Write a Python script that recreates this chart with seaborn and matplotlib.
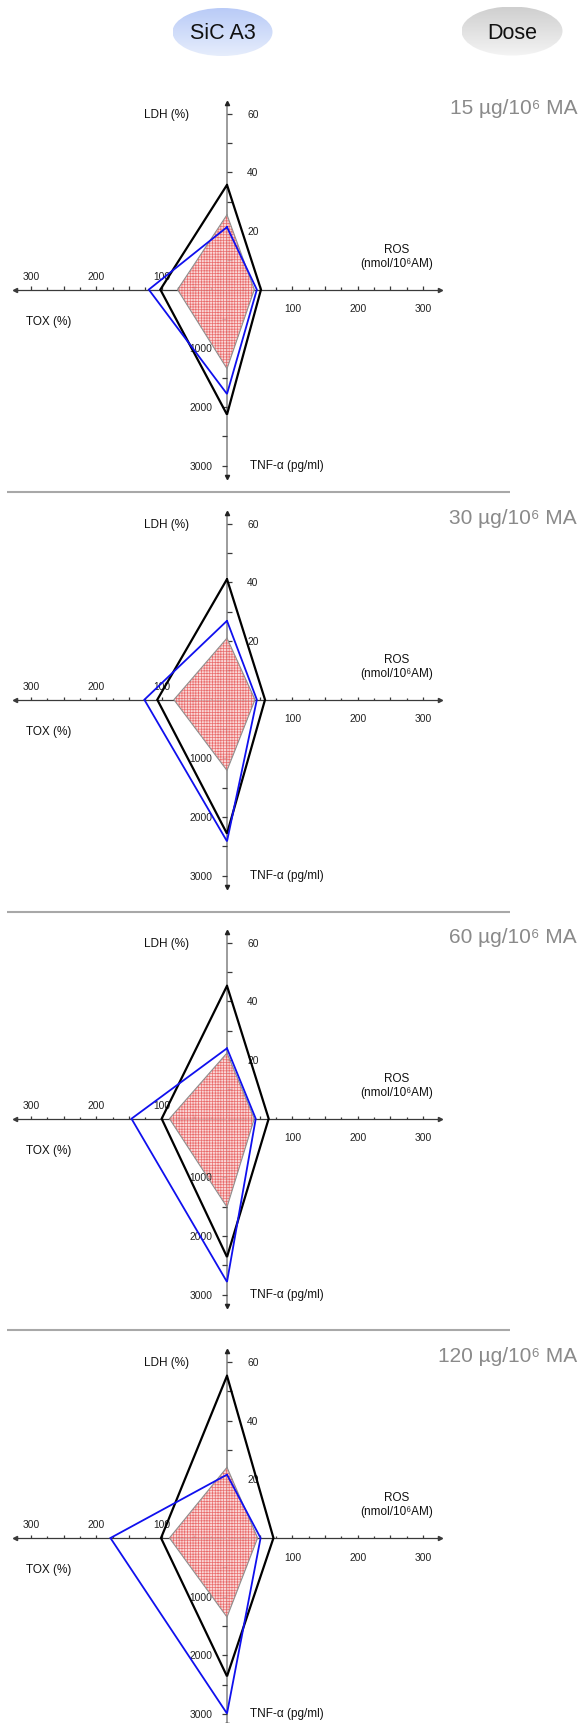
import numpy as np
import pandas as pd
import matplotlib
matplotlib.use("Agg")
import matplotlib.pyplot as plt
from matplotlib.patches import Ellipse
from matplotlib.colors import LinearSegmentedColormap
import seaborn as sns

# ---------------- data ----------------
doses = ["15 µg/10⁶ MA", "30 µg/10⁶ MA", "60 µg/10⁶ MA", "120 µg/10⁶ MA"]

# order of spokes: LDH (top), ROS (right), TNF-a (bottom), TOX (left)
ctrl_ldh = [25.5, 21.0, 22.4, 24.1]
ctrl_ros = [41.8, 42.9, 41.8, 46.9]
ctrl_tnf = [1348, 1207, 1507, 1348]
ctrl_tox = [75.7, 81.3, 88.1, 88.1]

black_ldh = [35.7, 41.1, 45.3, 55.3]
black_ros = [52.0, 58.2, 63.8, 71.1]
black_tnf = [2130, 2283, 2357, 2357]
black_tox = [102.0, 106.7, 100.0, 101.0]

blue_ldh = [21.3, 26.9, 24.0, 21.6]
blue_ros = [45.7, 45.7, 44.0, 51.4]
blue_tnf = [1779, 2414, 2782, 2992]
blue_tox = [119.7, 126.5, 146.2, 178.4]

ldh_ticks = [20, 40, 60]
tnf_ticks = [1000, 2000, 3000]
ros_ticks = [100, 200, 300]
tox_ticks = [100, 200, 300]

header_left = "SiC A3"
header_right = "Dose"

# ---------------- style ----------------
sns.set_theme(style="white")
plt.rcParams["font.family"] = ["Liberation Sans", "DejaVu Sans"]
plt.rcParams["hatch.linewidth"] = 0.5
plt.rcParams["hatch.color"] = "#e65555"

W, H = 579, 1724
fig = plt.figure(figsize=(W / 100, H / 100), dpi=100)
fig.patch.set_facecolor("white")

overlay = fig.add_axes([0, 0, 1, 1])
overlay.set_xlim(0, W)
overlay.set_ylim(H, 0)
overlay.axis("off")


def grad_ellipse(ax, cx, cy, w, h, c_top, c_bot):
    e = Ellipse((cx, cy), w, h, facecolor="none", edgecolor="none")
    ax.add_patch(e)
    grad = np.linspace(0, 1, 200)[:, None]
    cmap = LinearSegmentedColormap.from_list("g", [c_top, c_bot])
    im = ax.imshow(grad, cmap=cmap, extent=(cx - w / 2, cx + w / 2, cy + h / 2, cy - h / 2),
                   aspect="auto", zorder=1, interpolation="bilinear")
    im.set_clip_path(e)


grad_ellipse(overlay, 222.5, 33, 100, 48, "#b9cbf7", "#e6edfc")
grad_ellipse(overlay, 512, 32, 101, 49, "#cfcfcf", "#f4f4f4")
overlay.text(222.5, 33.5, header_left, ha="center", va="center", fontsize=15.5, color="#111111", zorder=3)
overlay.text(512, 33.5, header_right, ha="center", va="center", fontsize=15.5, color="#111111", zorder=3)

for ysep in [493.3, 912.5, 1330.7]:
    overlay.plot([7, 510], [ysep, ysep], color="#a8a8a8", lw=1.5, solid_capstyle="butt")
overlay.set_xlim(0, W)
overlay.set_ylim(H, 0)

# panel geometry (pixels)
CX = 227.0
centers = [290.6, 700.7, 1119.7, 1539.0]
PXU_H = 196.0 / 300.0      # px per ROS/TOX unit
PXU_V = 176.0 / 60.0       # px per LDH unit (TNF/50)
HALF_W, HALF_H = 227.0, 200.0

axis_dark = "#3a3a3a"
axis_grey = "#9c9c9c"
fs_tick = 7.4
fs_lab = 8.5


def polygon(ldh, ros, tnf, tox):
    xs = [0, ros, 0, -tox, 0]
    ys = [ldh, 0, -tnf / 50.0, 0, ldh]
    return xs, ys


for i, cy in enumerate(centers):
    ax = fig.add_axes([(CX - HALF_W) / W, 1 - (cy + HALF_H) / H, 2 * HALF_W / W, 2 * HALF_H / H])
    ax.set_xlim(-HALF_W / PXU_H, HALF_W / PXU_H)
    ax.set_ylim(-HALF_H / PXU_V, HALF_H / PXU_V)
    ax.axis("off")
    ax.patch.set_alpha(0)

    xl, xr = -212.0 / PXU_H, 213.0 / PXU_H
    yt, yb = 187.0 / PXU_V, -187.0 / PXU_V

    # axes lines
    ax.plot([xl, xr], [0, 0], color=axis_dark, lw=0.9, zorder=1)
    ax.plot([0, 0], [yb, yt], color=axis_grey, lw=1.4, zorder=1)
    ax.plot([xl], [0], marker="<", ms=3, color=axis_dark, zorder=1)
    ax.plot([xr], [0], marker=">", ms=3, color=axis_dark, zorder=1)
    ax.plot([0], [yt], marker="^", ms=3, color="#222222", zorder=1)
    ax.plot([0], [yb], marker="v", ms=3, color="#222222", zorder=1)

    # horizontal ticks (upwards), every 25 units
    for v in np.arange(25, 301, 25):
        h = (3.2 if v % 50 == 0 else 2.2) / PXU_V
        ax.vlines([v, -v], 0, h, color=axis_dark, lw=0.9, zorder=1)
    # vertical ticks: LDH to the right, TNF to the left
    tl = 5.0 / PXU_H
    for v in np.arange(10, 61, 10):
        ax.hlines(v, 0, tl, color=axis_dark, lw=0.9, zorder=1)
    for v in np.arange(500, 3001, 500):
        ax.hlines(-v / 50.0, -tl, 0, color=axis_dark, lw=0.9, zorder=1)

    # tick labels
    for v in ldh_ticks:
        ax.text(20.0 / PXU_H, v, str(v), ha="left", va="center", fontsize=fs_tick, color="#222222")
    for v in tnf_ticks:
        ax.text(-14.5 / PXU_H, -v / 50.0, str(v), ha="right", va="center", fontsize=fs_tick, color="#222222")
    for v in ros_ticks:
        ax.text(v, -18.8 / PXU_V, str(v), ha="center", va="center", fontsize=fs_tick, color="#222222")
    for v in tox_ticks:
        ax.text(-v, 13.8 / PXU_V, str(v), ha="center", va="center", fontsize=fs_tick, color="#222222")

    # axis titles
    ax.text(-60.5 / PXU_H, 176.0 / PXU_V, "LDH (%)", ha="center", va="center", fontsize=fs_lab, color="#111111")
    ax.text(170.0 / PXU_H, 40.7 / PXU_V, "ROS", ha="center", va="center", fontsize=fs_lab, color="#111111")
    ax.text(170.0 / PXU_H, 26.5 / PXU_V, "(nmol/10⁶AM)", ha="center", va="center", fontsize=fs_lab, color="#111111")
    ax.text(-178.5 / PXU_H, -31.0 / PXU_V, "TOX (%)", ha="center", va="center", fontsize=fs_lab, color="#111111")
    ax.text(23.0 / PXU_H, -175.0 / PXU_V, "TNF-α (pg/ml)", ha="left", va="center", fontsize=fs_lab, color="#111111")

    # control polygon (hatched pink)
    cx_, cy_ = polygon(ctrl_ldh[i], ctrl_ros[i], ctrl_tnf[i], ctrl_tox[i])
    ax.fill(cx_, cy_, facecolor="#f9cfcf", edgecolor="#e65555", hatch="++++++", lw=0, alpha=0.82, zorder=2)
    ax.plot(cx_, cy_, color="#8f8f8f", lw=0.8, zorder=3)

    # black and blue polygons via seaborn
    bx, by = polygon(black_ldh[i], black_ros[i], black_tnf[i], black_tox[i])
    sns.lineplot(x=bx, y=by, sort=False, estimator=None, color="black", lw=1.6,
                 solid_joinstyle="miter", ax=ax, zorder=4)
    ux, uy = polygon(blue_ldh[i], blue_ros[i], blue_tnf[i], blue_tox[i])
    sns.lineplot(x=ux, y=uy, sort=False, estimator=None, color="#1010ee", lw=1.3,
                 solid_joinstyle="miter", ax=ax, zorder=5)
    ax.set_xlim(-HALF_W / PXU_H, HALF_W / PXU_H)
    ax.set_ylim(-HALF_H / PXU_V, HALF_H / PXU_V)
    ax.axis("off")

    # dose label (right-aligned so it stays inside the figure)
    overlay.text(577, cy - 182, doses[i], ha="right", va="center", fontsize=15.0, color="#8a8a8a")

fig.savefig("out.png", dpi=100, facecolor="white")
